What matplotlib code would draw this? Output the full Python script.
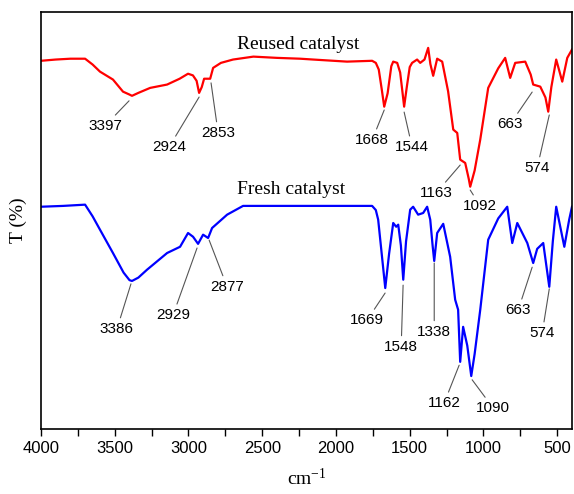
import matplotlib
matplotlib.use("Agg")
from matplotlib import pyplot as plt
from matplotlib.ticker import MultipleLocator

plt.rcParams["mathtext.fontset"] = "custom"
plt.rcParams["mathtext.rm"] = "Liberation Serif"
plt.rcParams["mathtext.it"] = "Liberation Serif:italic"

# wavenumber (cm-1) and transmittance
reused_wn = [4000, 3900, 3800, 3701, 3650, 3600, 3512, 3444, 3400, 3383, 3340, 3260, 3145, 3060, 3003,
             2970, 2945, 2928, 2910, 2894, 2853, 2833, 2780, 2698, 2560, 2400, 2243, 2155, 1925, 1755,
             1730, 1710, 1690, 1673, 1650, 1625, 1612, 1585, 1565, 1550, 1538, 1520, 1500, 1484, 1450,
             1429, 1400, 1375, 1360, 1341, 1314, 1280, 1240, 1205, 1178, 1158, 1124, 1100, 1090, 1060,
             1022, 968, 900, 853, 819, 785, 717, 680, 663, 615, 580, 561, 540, 507, 466, 432, 400]
reused_t = [88.3, 88.6, 88.8, 88.8, 87.4, 85.7, 83.8, 80.9, 80.2, 79.9, 80.6, 81.8, 82.6, 84.0, 85.2,
            84.8, 83.5, 80.6, 82.0, 84.0, 84.0, 86.6, 87.8, 88.6, 89.3, 89.0, 88.8, 88.6, 88.1, 88.3,
            87.8, 86.2, 81.5, 77.3, 80.5, 87.0, 88.1, 87.8, 85.5, 81.0, 77.3, 82.0, 86.8, 87.8, 88.6,
            87.8, 88.6, 91.4, 87.5, 84.7, 88.8, 88.1, 81.0, 71.8, 71.0, 64.6, 63.8, 60.0, 58.1, 62.0,
            69.4, 81.8, 86.5, 89.0, 84.2, 87.8, 88.1, 85.0, 82.6, 82.1, 79.5, 76.1, 82.0, 88.6, 83.3, 89.0, 91.0]

fresh_wn = [4000, 3850, 3701, 3650, 3600, 3512, 3440, 3400, 3383, 3340, 3281, 3145, 3057, 3003, 2969,
            2935, 2901, 2867, 2840, 2738, 2630, 2200, 1755, 1730, 1714, 1690, 1666, 1640, 1612, 1592,
            1578, 1560, 1544, 1525, 1497, 1477, 1443, 1409, 1382, 1361, 1345, 1334, 1314, 1273, 1226,
            1192, 1172, 1158, 1138, 1110, 1083, 1060, 1022, 968, 900, 839, 805, 771, 703, 663, 636,
            595, 554, 530, 507, 452, 419, 400]
fresh_t = [53.3, 53.5, 53.8, 51.0, 47.8, 42.2, 37.5, 35.7, 35.5, 36.3, 38.2, 42.2, 43.7, 47.0, 46.1,
           44.4, 46.6, 45.8, 48.2, 51.4, 53.5, 53.5, 53.5, 52.5, 50.2, 42.0, 33.8, 42.0, 49.4, 48.5,
           49.0, 44.0, 35.8, 45.0, 52.6, 53.3, 51.4, 51.8, 53.3, 50.2, 44.0, 40.3, 47.0, 49.2, 41.3,
           31.0, 28.6, 16.1, 24.5, 20.0, 12.7, 18.0, 28.6, 45.4, 50.5, 53.3, 44.6, 49.4, 44.6, 39.8, 43.2,
           44.6, 34.1, 45.0, 53.3, 43.7, 50.2, 53.3]

# peak labels: text, curve point, label position
reused_lbl = ["3397", "2924", "2853", "1668", "1544", "1163", "1092", "663", "574"]
reused_xy = [(3403, 78.7), (2928, 79.6), (2847, 83.0), (1673, 76.5), (1538, 76.0),
             (1158, 63.3), (1090, 57.3), (670, 80.8), (554, 75.3)]
reused_txt = [(3566, 72.7), (3132, 67.6), (2799, 71.0), (1755, 69.3), (1484, 67.6),
              (1321, 56.6), (1022, 53.5), (819, 73.1), (636, 62.6)]

fresh_lbl = ["3386", "2929", "2877", "1669", "1548", "1338", "1162", "1090", "663", "574"]
fresh_xy = [(3390, 34.8), (2942, 43.4), (2860, 45.3), (1667, 32.6), (1545, 34.5),
            (1334, 39.8), (1165, 15.3), (1077, 11.8), (670, 38.8), (554, 33.6)]
fresh_txt = [(3485, 24.0), (3105, 27.3), (2738, 34.1), (1789, 26.1), (1558, 19.7),
             (1334, 23.3), (1267, 6.2), (934, 5.0), (765, 28.5), (602, 23.0)]

serif = "Liberation Serif"
sans = "Liberation Sans"

fig = plt.figure(figsize=(5.74, 4.94), dpi=100)
ax = fig.add_axes([0.0714, 0.1316, 0.9251, 0.8441])

ax.plot(reused_wn, reused_t, color="#ff0000", lw=1.6)
ax.plot(fresh_wn, fresh_t, color="#0000ff", lw=1.6)

for lbls, xys, txts in [(reused_lbl, reused_xy, reused_txt), (fresh_lbl, fresh_xy, fresh_txt)]:
    for s, xy, xt in zip(lbls, xys, txts):
        ax.annotate(s, xy=xy, xytext=xt, ha="center", va="center", fontsize=11, family=sans,
                    arrowprops=dict(arrowstyle="-", color="#555555", lw=0.8, shrinkA=1, shrinkB=0))

ax.text(2670, 92.2, "Reused catalyst", family=serif, fontsize=14, va="center", ha="left")
ax.text(2670, 57.4, "Fresh catalyst", family=serif, fontsize=14, va="center", ha="left")

ax.set_xlim(4000, 400)
ax.set_ylim(0, 100)
ax.xaxis.set_major_locator(MultipleLocator(500))
ax.xaxis.set_minor_locator(MultipleLocator(250))
ax.tick_params(axis="x", which="both", direction="out", length=5, width=1, labelsize=12, pad=4)
ax.set_yticks([])
for lab in ax.get_xticklabels():
    lab.set_family(sans)
for sp in ax.spines.values():
    sp.set_linewidth(1.2)

ax.set_xlabel(r"cm$^{\mathregular{-1}}$", family=serif, fontsize=14, labelpad=8)
ax.set_ylabel("T (%)", family=serif, fontsize=14, labelpad=10)

fig.savefig("out.png", dpi=100)
